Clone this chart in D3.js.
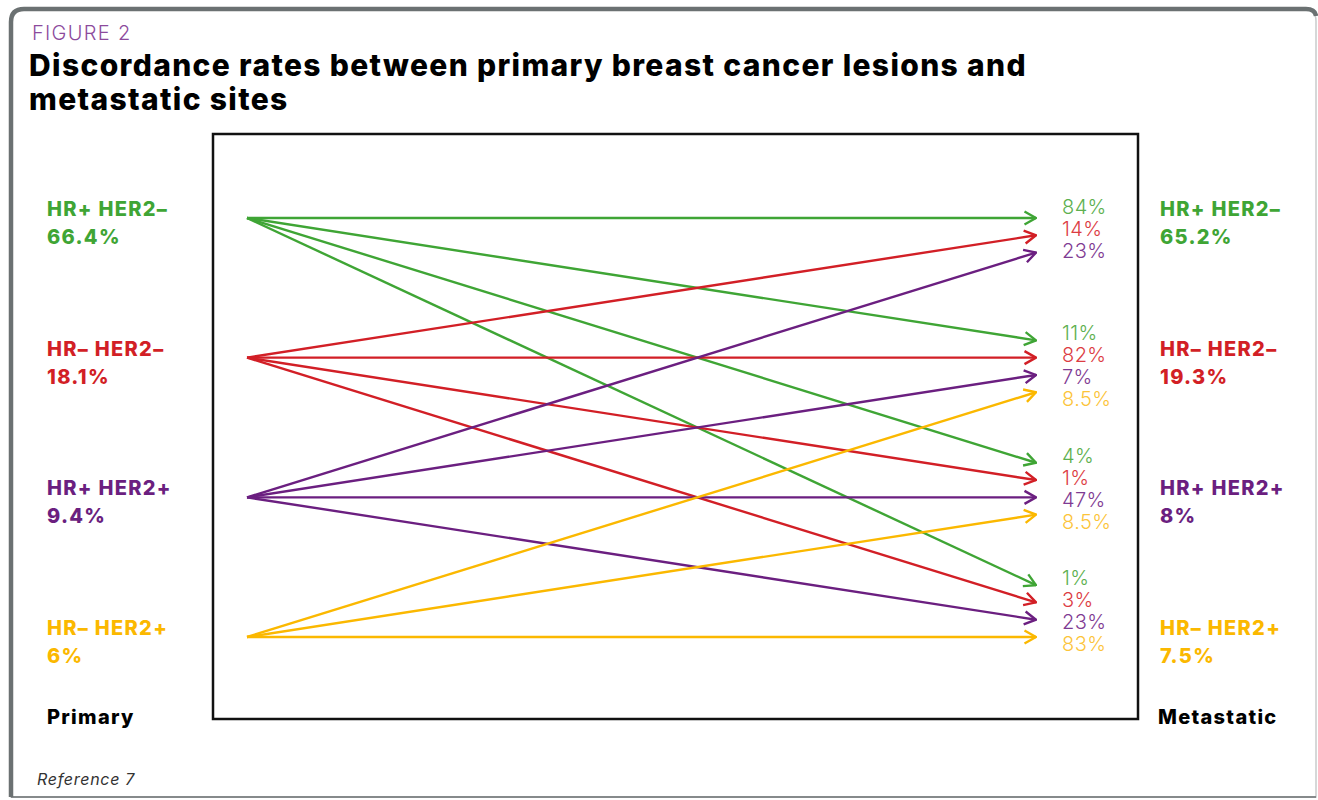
<!DOCTYPE html>
<html>
<head>
<meta charset="utf-8">
<script src="https://cdn.jsdelivr.net/npm/d3@7"></script>
<style>
  html, body { margin: 0; padding: 0; background: #fff; }
  svg { display: block; }
</style>
</head>
<body>
<svg id="chart" width="1318" height="800"></svg>
<script>
// Receptor subtypes, in drawing order
const categories = ["HR+ HER2–", "HR– HER2–", "HR+ HER2+", "HR– HER2+"];
// Share of each subtype among primary lesions and metastatic sites
const primaryShare = ["66.4%", "18.1%", "9.4%", "6%"];
const metastaticShare = ["65.2%", "19.3%", "8%", "7.5%"];
// Transition rates (%) from each primary subtype (row) to each metastatic subtype (column)
const rateHRposHER2neg = [84, 11, 4, 1];
const rateHRnegHER2neg = [14, 82, 1, 3];
const rateHRposHER2pos = [23, 7, 47, 23];
const rateHRnegHER2pos = [null, 8.5, 8.5, 83];
const rates = [rateHRposHER2neg, rateHRnegHER2neg, rateHRposHER2pos, rateHRnegHER2pos];

const lineColors = ["#3fa535", "#d21f26", "#6b1f80", "#fbb800"];
const labelColors = ["#5db04f", "#dc3c43", "#7f3b93", "#fcc43a"];
const FONT = "Inter, 'Open Sans', sans-serif";

const svg = d3.select("#chart");

// Outer frame: thick grey top/left edge, thin right/bottom edge
svg.append("path")
  .attr("d", "M11,797 L11,22 Q11,9 24,9 L1304,9 Q1316,9 1316,21 L1316,797 Z")
  .attr("fill", "#fff")
  .attr("stroke", "#c9cbcc")
  .attr("stroke-width", 1.5);
svg.append("path")
  .attr("d", "M11,797 L11,22 Q11,9 24,9 L1306,9 Q1315,9 1316,16")
  .attr("fill", "none")
  .attr("stroke", "#6b7172")
  .attr("stroke-width", 4.5);
svg.append("line")
  .attr("x1", 11).attr("x2", 1316).attr("y1", 797).attr("y2", 797)
  .attr("stroke", "#6b7172").attr("stroke-width", 1.5);

// Heading
svg.append("text")
  .attr("x", 32).attr("y", 40)
  .attr("font-family", FONT)
  .attr("font-weight", 300)
  .attr("font-size", 20)
  .attr("letter-spacing", 1.3)
  .attr("fill", "#8c4a9c")
  .text("FIGURE 2");
const titleLines = ["Discordance rates between primary breast cancer lesions and", "metastatic sites"];
svg.append("g").selectAll("text").data(titleLines).join("text")
  .attr("x", 29)
  .attr("y", (d, i) => 76 + i * 34)
  .attr("font-family", FONT)
  .attr("font-weight", 800)
  .attr("font-size", 30)
  .attr("letter-spacing", 1.35)
  .attr("fill", "#000")
  .text(d => d);

// Plot box
svg.append("rect")
  .attr("x", 213).attr("y", 134)
  .attr("width", 925).attr("height", 585)
  .attr("fill", "none")
  .attr("stroke", "#111")
  .attr("stroke-width", 2.5);

// Scales
const y = d3.scalePoint().domain(categories).range([218, 637]);
const xSrc = 247, xDst = 1036;
const fan = 17.3;        // vertical spread of arrows arriving at one subtype
const labelStep = 22;    // spacing of rate labels

// Build flows
const flows = [];
rates.forEach((row, s) => {
  row.forEach((v, t) => {
    if (v === null) return;
    flows.push({ s, t, v, y0: y(categories[s]), y1: y(categories[t]) + (s - t) * fan });
  });
});

// Arrowhead markers, one per colour
const defs = svg.append("defs");
lineColors.forEach((c, i) => {
  defs.append("marker")
    .attr("id", "arrow" + i)
    .attr("viewBox", "0 0 14 16")
    .attr("refX", 13).attr("refY", 8)
    .attr("markerWidth", 14).attr("markerHeight", 16)
    .attr("markerUnits", "userSpaceOnUse")
    .attr("orient", "auto")
    .append("path")
    .attr("d", "M1.5,1.5 L13,8 L1.5,14.5")
    .attr("fill", "none")
    .attr("stroke", c)
    .attr("stroke-width", 2.4)
    .attr("stroke-linejoin", "miter");
});

svg.append("g").selectAll("line").data(flows).join("line")
  .attr("x1", xSrc).attr("y1", d => d.y0)
  .attr("x2", xDst).attr("y2", d => d.y1)
  .attr("stroke", d => lineColors[d.s])
  .attr("stroke-width", 2.4)
  .attr("marker-end", d => `url(#arrow${d.s})`);

// Rate labels, stacked beside each arrival group (slot per source subtype)
const labelG = svg.append("g");
categories.forEach((cat, t) => {
  const center = y(cat) + (1.5 - t) * fan;
  flows.filter(f => f.t === t).forEach(f => {
    labelG.append("text")
      .attr("x", 1062)
      .attr("y", center + (f.s - 1.5) * labelStep - (t === 0 ? 4 : 0))
      .attr("dy", "0.35em")
      .attr("font-family", FONT)
      .attr("font-weight", 300)
      .attr("font-size", 20)
      .attr("letter-spacing", 0.4)
      .attr("fill", labelColors[f.s])
      .text(f.v + "%");
  });
});

// Subtype labels on both sides
function sideLabels(x, shares) {
  const g = svg.append("g");
  categories.forEach((cat, i) => {
    const t = g.append("text")
      .attr("x", x)
      .attr("font-family", FONT)
      .attr("font-weight", 800)
      .attr("font-size", 20)
      .attr("letter-spacing", 1.3)
      .attr("fill", lineColors[i]);
    t.append("tspan").attr("x", x).attr("y", y(cat) - 2).text(cat);
    t.append("tspan").attr("x", x).attr("y", y(cat) + 26).text(shares[i]);
  });
}
sideLabels(47, primaryShare);
sideLabels(1160, metastaticShare);

svg.append("text")
  .attr("x", 47).attr("y", 724)
  .attr("font-family", FONT)
  .attr("font-weight", 800).attr("font-size", 20)
  .attr("letter-spacing", 1.3)
  .attr("fill", "#000").text("Primary");
svg.append("text")
  .attr("x", 1158).attr("y", 724)
  .attr("font-family", FONT)
  .attr("font-weight", 800).attr("font-size", 20)
  .attr("letter-spacing", 1.3)
  .attr("fill", "#000").text("Metastatic");

svg.append("text")
  .attr("x", 37).attr("y", 785)
  .attr("font-family", FONT)
  .attr("font-style", "italic")
  .attr("font-size", 16)
  .attr("letter-spacing", 0.7)
  .attr("fill", "#333").text("Reference 7");
</script>
</body>
</html>
